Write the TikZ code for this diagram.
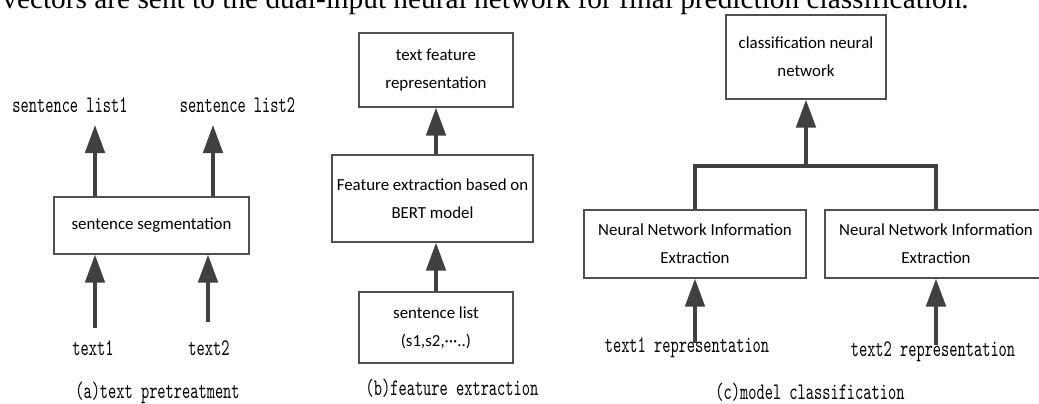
\documentclass[tikz,border=0pt]{standalone}
\usepackage{fontspec}
\usetikzlibrary{arrows.meta}

\newfontfamily\boxfont{Carlito}
\newfontfamily\serifbody{Liberation Serif}
\newfontfamily\songfont{lmmono10-regular.otf}[FakeStretch=0.66]
\definecolor{arrgray}{HTML}{404040}
\definecolor{boxgray}{HTML}{505050}

\begin{document}
\begin{tikzpicture}[x=0.02cm,y=-0.02cm,
    box/.style={draw=boxgray, line width=0.7pt, align=center, inner sep=0pt,
        font=\boxfont\fontsize{9.6}{15.9}\selectfont},
    arr/.style={draw=arrgray, line width=2.3pt,
        -{Triangle[length=16pt,width=11pt]}},
    bar/.style={draw=arrgray, line width=2.3pt},
    lbl/.style={inner sep=0pt, font=\songfont\fontsize{13.5}{15}\selectfont}]
  \useasboundingbox (0,0) rectangle (1039,404);

  % running text of the page, cut at the top
  \node[anchor=base west, inner sep=0pt,
        font=\serifbody\fontsize{16.7}{19}\selectfont] (para) at (2,9)
        {vectors are sent to the dual-input neural network for final prediction classification.};

  % (a) text pretreatment
  \node[box, minimum width=3.9cm, minimum height=1.14cm] (seg) at (151.5,225.5)
        {sentence segmentation};
  \node[lbl] (lst1) at (70,105) {sentence list1};
  \node[lbl] (lst2) at (237.5,105) {sentence list2};
  \node[lbl] (txt1) at (93,348) {text1};
  \node[lbl] (txt2) at (209,348) {text2};
  \coordinate (s1) at (95,125);
  \coordinate (s2) at (213,125);
  \coordinate (t1) at (95,328);
  \coordinate (t2) at (208,322);
  \draw[arr] (seg.north -| s1) -- (s1);
  \draw[arr] (seg.north -| s2) -- (s2);
  \draw[arr] (t1) -- (t1 |- seg.south);
  \draw[arr] (t2) -- (t2 |- seg.south);
  \node[lbl] (capa) at (157.5,393) {(a)text pretreatment};

  % (b) feature extraction
  \node[box, minimum width=3.08cm, minimum height=1.48cm] (feat) at (436,70)
        {text feature\\representation};
  \node[box, minimum width=4.02cm, minimum height=1.74cm] (bert) at (432.5,198.5)
        {Feature extraction based on\\BERT model};
  \node[box, minimum width=3.08cm, minimum height=1.42cm] (slist) at (436,327.5)
        {sentence list\\(s1,s2,\textperiodcentered\textperiodcentered\textperiodcentered..)};
  \draw[arr] (bert.north -| feat.south) -- (feat.south);
  \draw[arr] (slist.north) -- (slist.north |- bert.south);
  \node[lbl] (capb) at (452,388) {(b)feature extraction};

  % (c) model classification
  \node[box, minimum width=3.2cm, minimum height=1.68cm] (cls) at (806,57)
        {classification neural\\network};
  \node[box, minimum width=4.44cm, minimum height=1.36cm] (nn1) at (695,244)
        {Neural Network Information\\Extraction};
  \node[box, minimum width=4.44cm, minimum height=1.36cm] (nn2) at (936,244)
        {Neural Network Information\\Extraction};
  \coordinate (join) at (806,166);
  \draw[bar] (nn1.north) -- (nn1.north |- join) -- (nn2.north |- join) -- (nn2.north);
  \draw[arr] (join) -- (cls.south);
  \node[lbl] (rep1) at (687,348) {text1 representation};
  \node[lbl] (rep2) at (933,352) {text2 representation};
  \coordinate (r1) at (695,343);
  \coordinate (r2) at (936,345);
  \draw[arr] (r1) -- (r1 |- nn1.south);
  \draw[arr] (r2) -- (r2 |- nn2.south);
  \node[lbl] (capc) at (810,392) {(c)model classification};
\end{tikzpicture}
\end{document}
